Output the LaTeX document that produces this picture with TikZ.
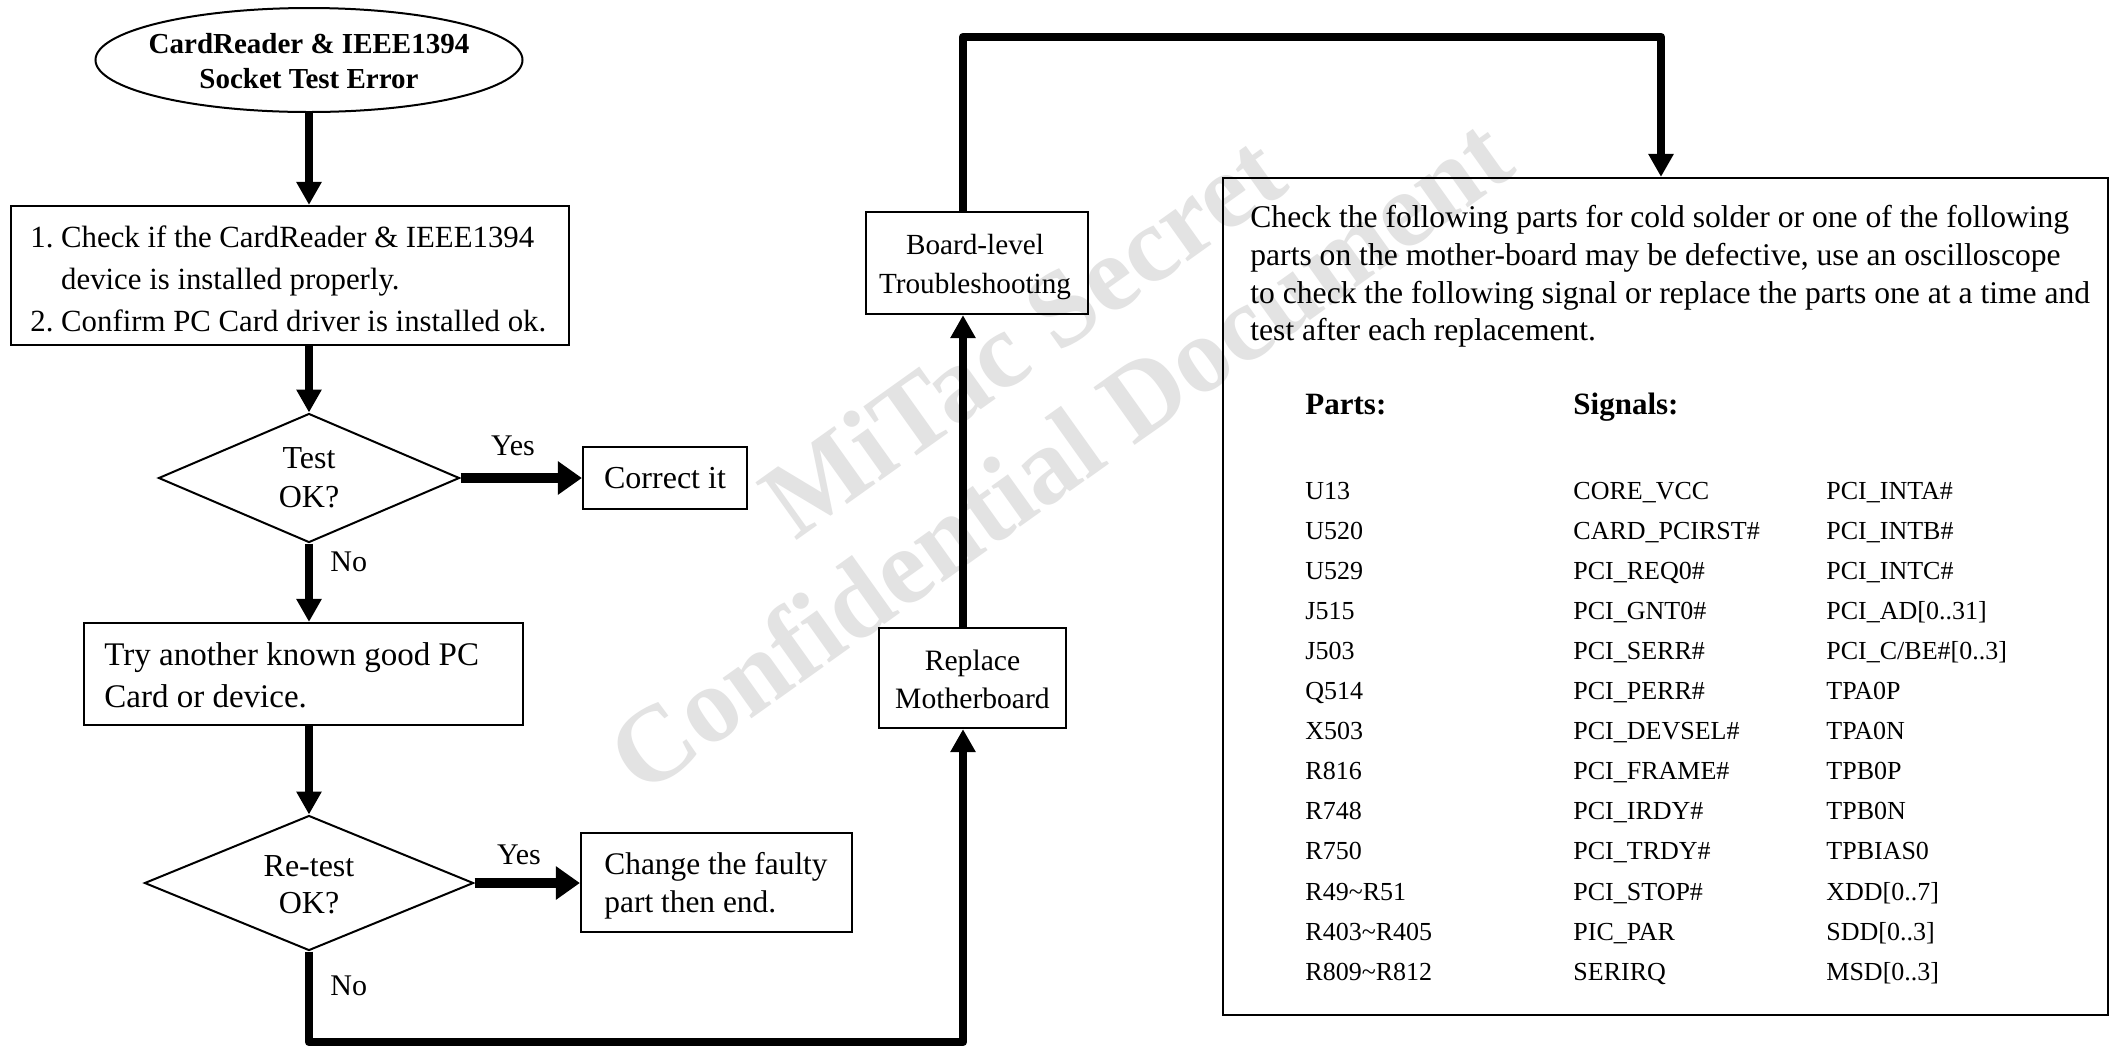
\documentclass[tikz,border=0pt]{standalone}
\usepackage{fontspec}
\setmainfont{Liberation Serif}
\usetikzlibrary{arrows.meta,shapes.geometric}
\newcommand{\mytabrow}[4]{%
  \node[tab] (pa#1) at (1305,{499+40.1*#1}) {#2};
  \node[tab] (sa#1) at (1573,{499+40.1*#1}) {#3};
  \node[tab] (sb#1) at (1826,{499+40.1*#1}) {#4};}
\begin{document}
\begin{tikzpicture}[x=0.5pt,y=-0.5pt,
  box/.style={draw, line width=1.1pt, rectangle, inner sep=0pt},
  shp/.style={draw, line width=1pt, inner sep=0pt},
  arr/.style={line width=4.3pt, -{Triangle[width=12pt,length=11.5pt]}},
  yarr/.style={line width=5pt, -{Triangle[width=16pt,length=12pt]}},
  lab/.style={font=\fontsize{15}{18}\selectfont, inner sep=0pt},
  tab/.style={font=\fontsize{13}{15}\selectfont, anchor=base west, inner sep=0pt},
  hd/.style={font=\fontsize{15.5}{18}\selectfont\bfseries, anchor=base west, inner sep=0pt},
  par/.style={font=\fontsize{15.8}{18}\selectfont, anchor=base west, inner sep=0pt},
  wm/.style={font=\fontsize{54}{60}\selectfont\bfseries, text=gray!22, rotate=35.5, inner sep=0pt}
]
\fill[white] (0,0) rectangle (2113,1046);
\path[use as bounding box] (0,0) rectangle (2113,1046);

% watermark
\node[wm] (wm1) at (1022,335) {MiTac Secret};
\node[wm] (wm2) at (1059,454) {Confidential Document};

% left column
\coordinate (lc) at (309,0);
\node[shp, ellipse, minimum width=213.5pt, minimum height=52pt] (ell) at (309,60) {};
\node[font=\fontsize{14.5}{17.5}\selectfont\bfseries, align=center, inner sep=0pt] (ellt) at (309,61) {CardReader \& IEEE1394\\Socket Test Error};

\node[box, minimum width=279pt, minimum height=69.5pt] (box1) at (290,275.5) {};
\node[anchor=west, align=left, inner sep=0pt, font=\fontsize{15.4}{21}\selectfont] (box1t) at (30,279)
  {1.~Check if the CardReader \& IEEE1394\\\hphantom{1.~}device is installed properly.\\2.~Confirm PC Card driver is installed ok.};

\node[shp, diamond, minimum width=150.5pt, minimum height=64.5pt] (d1) at (309,478) {};
\node[align=center, inner sep=0pt, font=\fontsize{16}{19.5}\selectfont] (d1t) at (309,478) {Test\\OK?};

\node[box, font=\fontsize{16}{18}\selectfont, minimum width=82pt, minimum height=31pt] (correct) at (665,478) {Correct it};
\node[lab] (yes1) at (513,446) {Yes};
\node[lab, anchor=west] (no1) at (330,562) {No};

\node[box, minimum width=219.5pt, minimum height=51pt] (box2) at (303.5,674) {};
\node[anchor=west, align=left, inner sep=0pt, font=\fontsize{16.5}{21}\selectfont] (box2t) at (104,675)
  {Try another known good PC\\Card or device.};

\node[shp, diamond, minimum width=164.5pt, minimum height=67.5pt] (d2) at (309,883) {};
\node[align=center, inner sep=0pt, font=\fontsize{16}{18.5}\selectfont] (d2t) at (309,885) {Re-test\\OK?};

\node[box, minimum width=135.5pt, minimum height=49.5pt] (change) at (716.5,882.5) {};
\node[anchor=west, align=left, inner sep=0pt, font=\fontsize{15.7}{18.8}\selectfont] (changet) at (604,886)
  {Change the faulty\\part then end.};
\node[lab] (yes2) at (519,855) {Yes};
\node[lab, anchor=west] (no2) at (330,986) {No};

% middle column
\coordinate (mc) at (963,0);
\node[box, minimum width=93.5pt, minimum height=50pt] (replace) at (972.5,678) {};
\node[align=center, inner sep=0pt, font=\fontsize{14.8}{19}\selectfont] (replacet) at (972.5,679) {Replace\\Motherboard};
\node[box, minimum width=111pt, minimum height=51pt] (board) at (977,263) {};
\node[align=center, inner sep=0pt, font=\fontsize{14.6}{19.5}\selectfont] (boardt) at (975,267) {Board-level\\Troubleshooting};

% big box
\node[box, minimum width=442.5pt, minimum height=418.5pt] (big) at (1665.5,596.5) {};
\node[par] (p1) at (1250,227) {Check the following parts for cold solder or one of the following};
\node[par] (p2) at (1250,265) {parts on the mother-board may be defective, use an oscilloscope};
\node[par] (p3) at (1250,303) {to check the following signal or replace the parts one at a time and};
\node[par] (p4) at (1250,340) {test after each replacement.};

\node[hd] (hparts) at (1305,414) {Parts:};
\node[hd] (hsig) at (1573,414) {Signals:};

\mytabrow{0}{U13}{CORE\_VCC}{PCI\_INTA\#}
\mytabrow{1}{U520}{CARD\_PCIRST\#}{PCI\_INTB\#}
\mytabrow{2}{U529}{PCI\_REQ0\#}{PCI\_INTC\#}
\mytabrow{3}{J515}{PCI\_GNT0\#}{PCI\_AD[0..31]}
\mytabrow{4}{J503}{PCI\_SERR\#}{PCI\_C/BE\#[0..3]}
\mytabrow{5}{Q514}{PCI\_PERR\#}{TPA0P}
\mytabrow{6}{X503}{PCI\_DEVSEL\#}{TPA0N}
\mytabrow{7}{R816}{PCI\_FRAME\#}{TPB0P}
\mytabrow{8}{R748}{PCI\_IRDY\#}{TPB0N}
\mytabrow{9}{R750}{PCI\_TRDY\#}{TPBIAS0}
\mytabrow{10}{R49\textasciitilde R51}{PCI\_STOP\#}{XDD[0..7]}
\mytabrow{11}{R403\textasciitilde R405}{PIC\_PAR}{SDD[0..3]}
\mytabrow{12}{R809\textasciitilde R812}{SERIRQ}{MSD[0..3]}

% connectors
\draw[arr] (ell.south) -- (lc |- box1.north);
\draw[arr] (lc |- box1.south) -- (d1.north);
\draw[yarr] (d1.east) -- (correct.west);
\draw[arr] (d1.south) -- (lc |- box2.north);
\draw[arr] (lc |- box2.south) -- (d2.north);
\draw[yarr] (d2.east) -- (d2.east -| change.west);

\coordinate (bl) at (309,1042);
\coordinate (br) at (963,1042);
\draw[arr, line join=round] (d2.south) -- (bl) -- (br) -- (mc |- replace.south);
\draw[arr] (mc |- replace.north) -- (mc |- board.south);

\coordinate (tl) at (963,37);
\coordinate (tr) at (1661,37);
\draw[arr, line join=round] (mc |- board.north) -- (tl) -- (tr) -- (tr |- big.north);
\end{tikzpicture}
\end{document}
